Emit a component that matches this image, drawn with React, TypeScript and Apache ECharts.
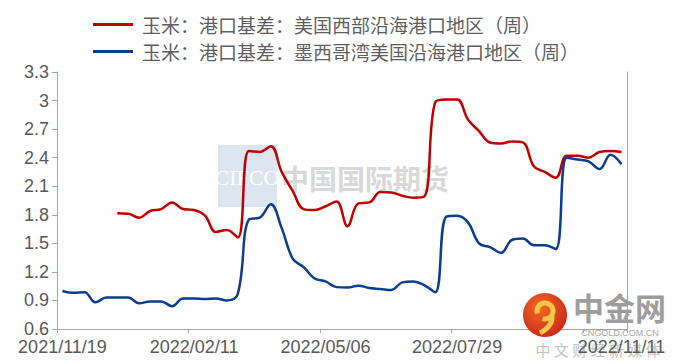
import React, { useEffect, useRef } from "react";
import * as echarts from "echarts";

const categories = [
  "2021/11/19", "2021/11/26", "2021/12/03", "2021/12/10", "2021/12/17", "2021/12/24", "2021/12/31",
  "2022/01/07", "2022/01/14", "2022/01/21", "2022/01/28", "2022/02/04", "2022/02/11", "2022/02/18",
  "2022/02/25", "2022/03/04", "2022/03/11", "2022/03/18", "2022/03/25", "2022/04/01", "2022/04/08",
  "2022/04/15", "2022/04/22", "2022/04/29", "2022/05/06", "2022/05/13", "2022/05/20", "2022/05/27",
  "2022/06/03", "2022/06/10", "2022/06/17", "2022/06/24", "2022/07/01", "2022/07/08", "2022/07/15",
  "2022/07/22", "2022/07/29", "2022/08/05", "2022/08/12", "2022/08/19", "2022/08/26", "2022/09/02",
  "2022/09/09", "2022/09/16", "2022/09/23", "2022/09/30", "2022/10/07", "2022/10/14", "2022/10/21",
  "2022/10/28", "2022/11/04", "2022/11/11",
];

const westCoastName = "玉米：港口基差：美国西部沿海港口地区（周）";
const gulfName = "玉米：港口基差：墨西哥湾美国沿海港口地区（周）";

const westCoast = [
  null, null, null, null, null, 1.815, 1.81, 1.77, 1.84, 1.86,
  1.93, 1.86, 1.85, 1.79, 1.62, 1.64, 1.56, 2.47, 2.46, 2.52,
  2.25, 2.05, 1.86, 1.85, 1.89, 1.94, 1.68, 1.92, 1.93, 2.04,
  2.035, 2.0, 1.98, 1.99, 2.98, 3.01, 3.01, 2.8, 2.68, 2.56,
  2.55, 2.57, 2.56, 2.31, 2.25, 2.19, 2.42, 2.42, 2.4, 2.46,
  2.47, 2.46,
];

const gulf = [
  1.0, 0.98, 0.985, 0.88, 0.93, 0.93, 0.93, 0.87, 0.89, 0.89,
  0.84, 0.92, 0.92, 0.915, 0.92, 0.9, 0.97, 1.75, 1.77, 1.91,
  1.66, 1.34, 1.25, 1.13, 1.1, 1.04, 1.035, 1.055, 1.03, 1.02,
  1.01, 1.09, 1.1, 1.06, 0.985, 1.78, 1.79, 1.72, 1.5, 1.46,
  1.4, 1.535, 1.55, 1.48, 1.48, 1.44, 2.4, 2.38, 2.36, 2.28,
  2.43, 2.33,
];

const labelIndices = [0, 12, 24, 36, 51];

export default function App() {
  const ref = useRef<HTMLDivElement>(null);
  useEffect(() => {
    const chart = echarts.init(ref.current!, null, { renderer: "svg" });
    const axisColor = "#A6A6A6";
    const labelStyle = { color: "#595959", fontSize: 18, fontFamily: "Liberation Sans" };
    chart.setOption({
      animation: false,
      legend: {
        orient: "vertical",
        left: 88,
        top: 8,
        itemWidth: 40,
        itemHeight: 3,
        itemGap: 4,
        icon: "rect",
        textStyle: {
          fontSize: 19,
          color: "#5f5f5f",
          fontFamily: "Noto Sans CJK SC",
          lineHeight: 23,
          padding: [0, 0, 0, 4],
        },
        data: [westCoastName, gulfName],
      },
      grid: { left: 57, right: 53, top: 72, bottom: 35 },
      xAxis: {
        type: "category",
        data: categories,
        boundaryGap: true,
        axisLine: { lineStyle: { color: axisColor, width: 1 } },
        axisTick: {
          show: true,
          length: 4,
          lineStyle: { color: axisColor },
          interval: (i: number) => i % 12 === 0,
        },
        axisLabel: {
          ...labelStyle,
          margin: 9,
          interval: (i: number) => labelIndices.includes(i),
        },
        splitLine: { show: false },
      },
      yAxis: [
        {
          type: "value",
          min: 0.6,
          max: 3.3,
          interval: 0.3,
          axisLine: { show: true, lineStyle: { color: axisColor } },
          axisTick: { show: true, length: 5, lineStyle: { color: axisColor } },
          axisLabel: {
            ...labelStyle,
            margin: 8,
            formatter: (v: number) => String(parseFloat(v.toFixed(1))),
          },
          splitLine: { show: false },
        },
        {
          type: "value",
          position: "right",
          min: 0.6,
          max: 3.3,
          interval: 0.3,
          axisLine: { show: true, lineStyle: { color: axisColor } },
          axisTick: { show: false },
          axisLabel: { show: false },
          splitLine: { show: false },
        },
      ],
      series: [
        {
          name: westCoastName,
          type: "line",
          data: westCoast,
          color: "#C00000",
          smooth: 0.4,
          showSymbol: false,
          lineStyle: { width: 2.5, color: "#C00000" },
        },
        {
          name: gulfName,
          type: "line",
          data: gulf,
          color: "#0B3D91",
          smooth: 0.4,
          showSymbol: false,
          lineStyle: { width: 2.5, color: "#0B3D91" },
        },
      ],
      graphic: [
        {
          type: "rect",
          z: -10,
          shape: { x: 218, y: 145, width: 59, height: 62 },
          style: { fill: "#DCE6F1" },
        },
        {
          type: "text",
          z: -9,
          x: 247,
          y: 177,
          style: {
            text: "CIFCO",
            fill: "#FFFFFF",
            font: "22px 'Liberation Serif'",
            align: "center",
            verticalAlign: "middle",
          },
        },
        {
          type: "text",
          z: -9,
          x: 281,
          y: 178,
          style: {
            text: "中国国际期货",
            fill: "#D9D9D9",
            font: "bold 28px 'Noto Sans CJK SC'",
            align: "left",
            verticalAlign: "middle",
          },
        },
        {
          type: "text",
          z: -9,
          x: 598,
          y: 349,
          style: {
            text: "中 文 财 经 新 媒 体",
            fill: "#C4C4C4",
            font: "15px 'Noto Sans CJK SC'",
            align: "center",
            verticalAlign: "middle",
          },
        },
        {
          type: "circle",
          z: 100,
          shape: { cx: 545, cy: 315, r: 22 },
          style: {
            fill: new echarts.graphic.RadialGradient(0.4, 0.35, 0.7, [
              { offset: 0, color: "#F26A22" },
              { offset: 1, color: "#C9271B" },
            ]),
          },
        },
        {
          type: "arc",
          z: 101,
          shape: { cx: 545, cy: 311, r: 8, startAngle: -Math.PI * 1.1, endAngle: Math.PI * 0.6 },
          style: { stroke: "#F7C548", lineWidth: 5, fill: "none" },
        },
        {
          type: "bezierCurve",
          z: 101,
          shape: { x1: 552, y1: 316, x2: 540, y2: 333, cpx1: 553, cpy1: 326 },
          style: { stroke: "#F7C548", lineWidth: 5, fill: "none" },
        },
        {
          type: "text",
          z: 100,
          x: 573,
          y: 306,
          style: {
            text: "中金网",
            fill: "#9E9E9E",
            font: "bold 31px 'Noto Sans CJK SC'",
            align: "left",
            verticalAlign: "middle",
          },
        },
        {
          type: "text",
          z: 100,
          x: 620,
          y: 333,
          style: {
            text: "CNGOLD.COM.CN",
            fill: "#A8A8A8",
            font: "9px 'Liberation Sans'",
            align: "center",
            verticalAlign: "middle",
          },
        },
      ],
    });
    return () => chart.dispose();
  }, []);
  return (
    <div
      ref={ref}
      style={{ position: "fixed", left: 0, top: 0, width: 680, height: 364, background: "#fff" }}
    />
  );
}
